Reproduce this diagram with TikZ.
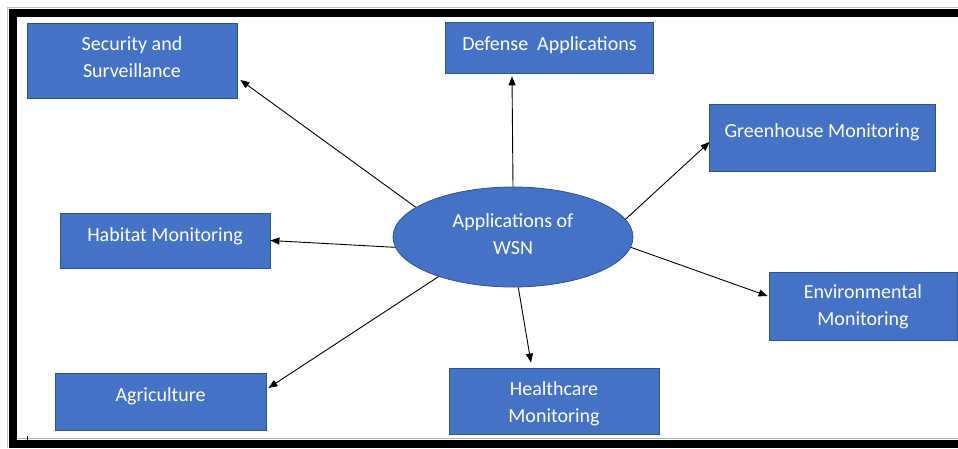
\documentclass[tikz,border=0pt]{standalone}
\usepackage{fontspec}
\setmainfont{Carlito}
\usetikzlibrary{arrows.meta,shapes.geometric}
\definecolor{boxblue}{HTML}{4472C4}
\definecolor{boxedge}{HTML}{2F528F}
\newcommand\liftlabel[2]{\raisebox{#1}[\height][\depth]{\begin{tabular}{@{}c@{}}#2\end{tabular}}}
\tikzset{
  appbox/.style={draw=boxedge, line width=0.8pt, fill=boxblue, text=white, align=center,
    font=\fontsize{20}{27}\selectfont, inner sep=0pt},
  hub/.style={ellipse, draw=boxedge, line width=0.8pt, fill=boxblue, text=white, align=center,
    font=\fontsize{20}{27}\selectfont, minimum width=240pt, minimum height=100pt, inner sep=0pt},
  link/.style={draw=black, line width=0.9pt, -{Triangle[length=9pt,width=7pt]}},
  framebar/.style={fill=black, draw=none}
}
\begin{document}
\begin{tikzpicture}[x=1pt,y=-1pt]
\useasboundingbox (0,0) rectangle (958,448);
% frame
\draw[gray!50, line width=0.8pt] (7,448) -- (7,7) -- (958,7);
\fill[framebar] (9,9) rectangle (958,16.5);
\fill[framebar] (9,9) rectangle (17,448);
\fill[framebar] (9,440) rectangle (958,448);
\draw[gray!60, line width=0.6pt] (17,438.5) -- (958,438.5);
\draw[black, line width=0.8pt] (27,436) -- (27,440);
% nodes
\node[appbox, minimum width=210pt, minimum height=75pt] (sec) at (132,60.5) {\liftlabel{1.8pt}{Security and\\Surveillance}};
\node[appbox, minimum width=208pt, minimum height=51pt] (def) at (549.5,47.5) {\liftlabel{2.8pt}{Defense\ \ Applications}};
\node[appbox, minimum width=226pt, minimum height=67pt] (gh) at (822,137.5) {\liftlabel{5.6pt}{Greenhouse Monitoring}};
\node[appbox, minimum width=210pt, minimum height=55pt] (hab) at (165,240.5) {\liftlabel{4.1pt}{Habitat Monitoring}};
\node[appbox, minimum width=211pt, minimum height=57pt] (agr) at (160.5,401.5) {\liftlabel{5.5pt}{Agriculture}};
\node[appbox, minimum width=210pt, minimum height=66pt] (hc) at (554,401) {\liftlabel{-2.4pt}{Healthcare\\Monitoring}};
\node[appbox, minimum width=188pt, minimum height=68pt] (env) at (863,306) {\liftlabel{-0.4pt}{Environmental\\Monitoring}};
\node[hub] (c) at (513,237) {\liftlabel{1.4pt}{Applications of\\WSN}};
% connectors
\draw[link] (c.163) -- ([yshift=-19.5pt,xshift=3pt]sec.east);
\draw[link] (c.90) -- ([xshift=-37.5pt,yshift=-3pt]def.south);
\draw[link] (c.9) -- ([yshift=-4.5pt,xshift=1pt]gh.west);
\draw[link] (c.185) -- (hab.east);
\draw[link] (c.208) -- ([yshift=13.5pt,xshift=2pt]agr.east);
\draw[link] (c.276) -- ([xshift=-23pt,yshift=5pt]hc.north);
\draw[link] (c.355) -- ([yshift=10pt,xshift=-1pt]env.west);
\end{tikzpicture}
\end{document}
